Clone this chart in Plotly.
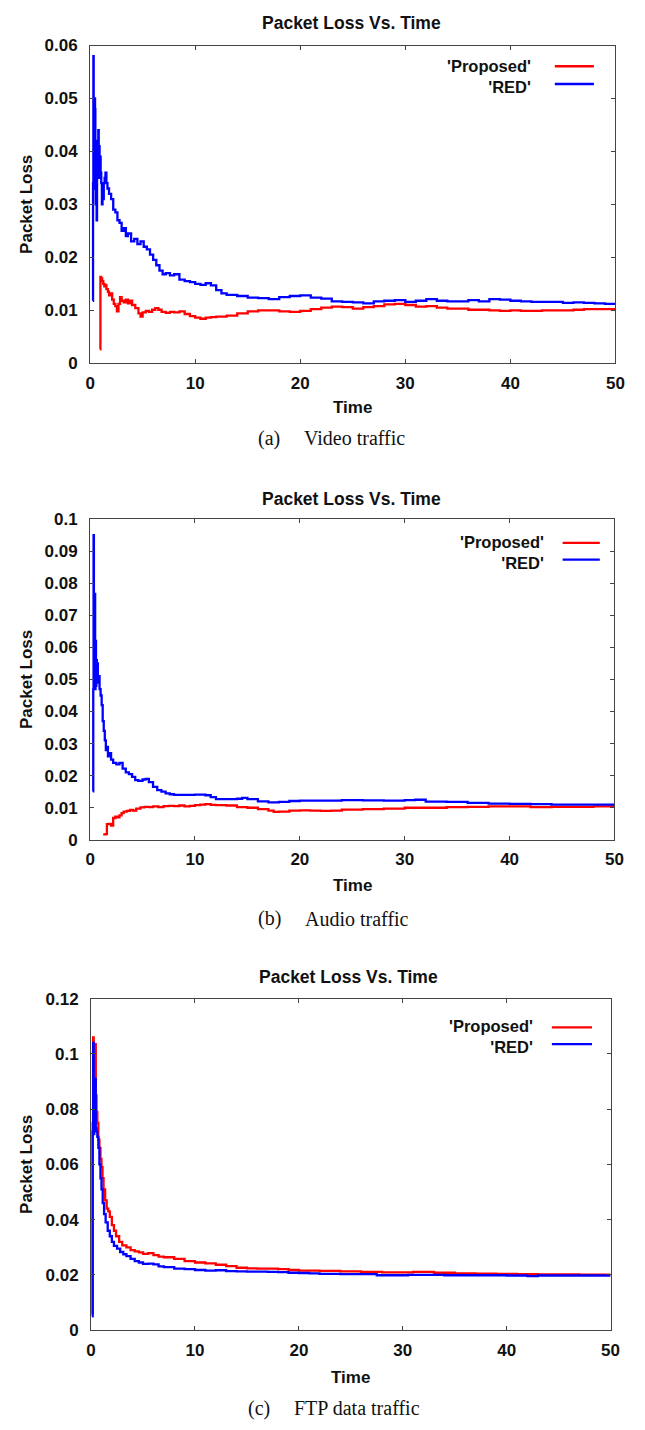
import plotly.graph_objects as go

W, H = 645, 1430

# ---------------- data ----------------
# (a) Video traffic
a_prop_t = [0.95, 0.98, 1.05, 1.15, 1.25, 1.35, 1.45, 1.55, 1.7, 1.8, 1.95, 2.1, 2.25, 2.4, 2.55, 2.7, 2.85,
            3.0, 3.2, 3.4, 3.6, 3.8, 4.0, 4.3, 4.6, 4.8, 5.0, 5.3, 5.6, 5.9, 6.2, 6.5, 6.8, 7.2, 7.6, 8.0,
            8.5, 9.0, 9.5, 10.0, 10.5, 11.0, 11.5, 12.0, 13.0, 14.0, 15.0, 16.0, 17.0, 18.0, 19.0, 20.0,
            21.0, 22.0, 23.0, 24.0, 25.0, 26.0, 27.0, 28.0, 29.0, 30.0, 31.0, 32.0, 33.0, 34.0, 35.0, 36.0,
            37.0, 38.0, 39.0, 40.0, 41.0, 42.0, 43.0, 44.0, 45.0, 46.0, 47.0, 48.0, 49.0, 50.0]
a_prop_v = [0.0026, 0.0163, 0.0160, 0.0155, 0.0150, 0.0145, 0.0148, 0.0140, 0.0135, 0.0128, 0.0132, 0.0120,
            0.0112, 0.0108, 0.0098, 0.0112, 0.0125, 0.0118, 0.0115, 0.0120, 0.0113, 0.0118, 0.0110, 0.0104,
            0.0094, 0.0088, 0.0096, 0.0099, 0.0097, 0.0101, 0.0104, 0.0101, 0.0097, 0.0095, 0.0097, 0.0096,
            0.0098, 0.0093, 0.0089, 0.0086, 0.0084, 0.0086, 0.0087, 0.0088, 0.0090, 0.0094, 0.0098, 0.0100,
            0.0100, 0.0098, 0.0097, 0.0099, 0.0102, 0.0105, 0.0107, 0.0106, 0.0103, 0.0106, 0.0108, 0.0111,
            0.0112, 0.0110, 0.0107, 0.0108, 0.0105, 0.0103, 0.0103, 0.0101, 0.0101, 0.0100, 0.0099, 0.0100,
            0.0099, 0.0099, 0.0100, 0.0100, 0.0100, 0.0101, 0.0102, 0.0102, 0.0102, 0.0102]
a_red_t = [0.26, 0.28, 0.31, 0.34, 0.38, 0.42, 0.47, 0.50, 0.54, 0.58, 0.62, 0.66, 0.70, 0.74, 0.78, 0.82, 0.86,
           0.90, 0.95, 1.00, 1.06, 1.12, 1.18, 1.24, 1.30, 1.38, 1.46, 1.55, 1.65, 1.8, 2.0, 2.2, 2.4, 2.6,
           2.8, 3.0, 3.2, 3.4, 3.6, 3.9, 4.2, 4.5, 4.8, 5.1, 5.4, 5.7, 6.0, 6.3, 6.6, 6.9, 7.2, 7.6, 8.0,
           8.5, 9.0, 9.5, 10.0, 10.5, 11.0, 11.5, 12.0, 12.5, 13.0, 14.0, 15.0, 16.0, 17.0, 18.0, 19.0,
           20.0, 21.0, 22.0, 23.0, 24.0, 25.0, 26.0, 27.0, 28.0, 29.0, 30.0, 31.0, 32.0, 33.0, 34.0, 35.0,
           36.0, 37.0, 38.0, 39.0, 40.0, 41.0, 42.0, 44.0, 45.0, 46.0, 47.0, 48.0, 49.0, 50.0]
a_red_v = [0.0118, 0.034, 0.058, 0.036, 0.033, 0.050, 0.048, 0.036, 0.030, 0.038, 0.027, 0.036, 0.042, 0.035,
           0.044, 0.038, 0.041, 0.035, 0.039, 0.036, 0.034, 0.030, 0.033, 0.031, 0.034, 0.035, 0.036, 0.034,
           0.033, 0.032, 0.031, 0.029, 0.0285, 0.027, 0.0265, 0.025, 0.0255, 0.024, 0.0245, 0.023, 0.0235,
           0.0225, 0.023, 0.022, 0.0215, 0.0205, 0.0195, 0.0185, 0.0175, 0.0168, 0.0170, 0.0166, 0.0168,
           0.0158, 0.0155, 0.0153, 0.0150, 0.0148, 0.0151, 0.0147, 0.0138, 0.0132, 0.0129, 0.0127, 0.0124,
           0.0123, 0.0121, 0.0125, 0.0127, 0.0128, 0.0124, 0.0122, 0.0117, 0.0116, 0.0115, 0.0113, 0.0117,
           0.0118, 0.0119, 0.0116, 0.0118, 0.0121, 0.0118, 0.0117, 0.0117, 0.0119, 0.0117, 0.0121, 0.0120,
           0.0118, 0.0117, 0.0116, 0.0116, 0.0114, 0.0115, 0.0114, 0.0113, 0.0112, 0.0111]

# (b) Audio traffic
b_prop_t = [1.25, 1.5, 1.6, 1.8, 2.0, 2.2, 2.4, 2.6, 2.8, 3.0, 3.2, 3.5, 3.8, 4.1, 4.4, 4.8, 5.2, 5.6, 6.0,
            6.5, 7.0, 7.5, 8.0, 8.5, 9.0, 9.5, 10.0, 10.5, 11.0, 11.5, 12.0, 13.0, 14.0, 15.0, 16.0, 17.0,
            17.5, 18.0, 19.0, 20.0, 21.0, 22.0, 23.0, 24.0, 26.0, 28.0, 30.0, 32.0, 34.0, 36.0, 38.0, 40.0,
            42.0, 44.0, 46.0, 48.0, 50.0]
b_prop_v = [0.0017, 0.0018, 0.0049, 0.0050, 0.0044, 0.0068, 0.0072, 0.0070, 0.0076, 0.0083, 0.0088, 0.0090,
            0.0093, 0.0091, 0.0097, 0.0101, 0.0103, 0.0102, 0.0104, 0.0102, 0.0105, 0.0106, 0.0105, 0.0107,
            0.0104, 0.0106, 0.0108, 0.0110, 0.0111, 0.0109, 0.0108, 0.0107, 0.0102, 0.0100, 0.0096, 0.0091,
            0.0087, 0.0088, 0.0091, 0.0092, 0.0091, 0.0090, 0.0091, 0.0094, 0.0096, 0.0097, 0.0100, 0.0100,
            0.0102, 0.0103, 0.0104, 0.0104, 0.0102, 0.0103, 0.0103, 0.0104, 0.0103]
b_red_t = [0.26, 0.30, 0.33, 0.36, 0.40, 0.44, 0.48, 0.52, 0.56, 0.60, 0.64, 0.68, 0.74, 0.80, 0.90, 1.0, 1.1,
           1.2, 1.3, 1.4, 1.5, 1.6, 1.7, 1.8, 2.0, 2.2, 2.5, 2.8, 3.1, 3.4, 3.7, 4.0, 4.3, 4.6, 5.0, 5.3,
           5.6, 6.0, 6.4, 6.8, 7.2, 7.6, 8.0, 9.0, 10.0, 11.0, 11.5, 12.0, 13.0, 14.0, 14.5, 15.0, 16.0,
           17.0, 18.0, 19.0, 20.0, 22.0, 24.0, 26.0, 28.0, 30.0, 31.0, 32.0, 34.0, 36.0, 38.0, 40.0, 42.0,
           44.0, 46.0, 48.0, 50.0]
b_red_v = [0.0151, 0.047, 0.095, 0.048, 0.060, 0.0767, 0.047, 0.062, 0.048, 0.056, 0.050, 0.055, 0.049, 0.051,
           0.047, 0.045, 0.042, 0.037, 0.034, 0.031, 0.028, 0.029, 0.026, 0.027, 0.025, 0.024, 0.0235, 0.024,
           0.0222, 0.0210, 0.0205, 0.0196, 0.0186, 0.0184, 0.0188, 0.0190, 0.0180, 0.0165, 0.0155, 0.0150,
           0.0145, 0.0142, 0.0140, 0.0140, 0.0141, 0.0139, 0.0133, 0.0127, 0.0127, 0.0128, 0.0131, 0.0127,
           0.0120, 0.0117, 0.0118, 0.0121, 0.0122, 0.0122, 0.0124, 0.0123, 0.0122, 0.0124, 0.0125, 0.0119,
           0.0118, 0.0115, 0.0113, 0.0112, 0.0111, 0.0110, 0.0110, 0.0110, 0.0109]

# (c) FTP data traffic
c_prop_t = [0.10, 0.15, 0.20, 0.25, 0.30, 0.35, 0.40, 0.45, 0.52, 0.60, 0.70, 0.80, 0.90, 1.0, 1.1, 1.2, 1.35,
            1.5, 1.65, 1.8, 2.0, 2.2, 2.4, 2.7, 3.0, 3.4, 3.8, 4.2, 4.6, 5.0, 5.5, 6.0, 6.5, 7.0, 8.0, 9.0,
            10.0, 11.0, 12.0, 13.0, 14.0, 15.0, 16.0, 17.0, 18.0, 19.0, 20.0, 22.0, 24.0, 26.0, 28.0, 30.0,
            31.0, 33.0, 35.0, 37.0, 39.0, 41.0, 43.0, 45.0, 47.0, 50.0]
c_prop_v = [0.006, 0.075, 0.106, 0.074, 0.080, 0.086, 0.1035, 0.085, 0.079, 0.075, 0.069, 0.066, 0.062, 0.059,
            0.055, 0.051, 0.047, 0.044, 0.043, 0.041, 0.038, 0.036, 0.034, 0.032, 0.0307, 0.0300, 0.0290,
            0.0285, 0.0282, 0.0276, 0.0279, 0.0272, 0.0266, 0.0264, 0.0258, 0.0250, 0.0245, 0.0242, 0.0237,
            0.0232, 0.0226, 0.0224, 0.0223, 0.0223, 0.0221, 0.0218, 0.0216, 0.0215, 0.0213, 0.0211, 0.0209,
            0.0209, 0.0211, 0.0208, 0.0206, 0.0205, 0.0204, 0.0203, 0.0202, 0.0202, 0.0201, 0.0201]
c_red_t = [0.10, 0.15, 0.20, 0.25, 0.30, 0.35, 0.40, 0.45, 0.52, 0.60, 0.70, 0.80, 0.90, 1.0, 1.12, 1.25, 1.4,
           1.6, 1.8, 2.0, 2.2, 2.5, 2.8, 3.1, 3.4, 3.8, 4.2, 4.6, 5.0, 5.5, 6.0, 6.5, 7.0, 8.0, 9.0, 10.0,
           11.0, 12.0, 13.0, 14.0, 15.0, 16.0, 17.0, 18.0, 19.0, 20.0, 21.0, 22.0, 24.0, 26.0, 27.5, 29.0,
           30.5, 32.0, 34.0, 36.0, 38.0, 40.0, 42.0, 43.0, 45.0, 47.0, 50.0]
c_red_v = [0.005, 0.072, 0.104, 0.071, 0.075, 0.072, 0.091, 0.073, 0.072, 0.070, 0.066, 0.060, 0.055, 0.051,
           0.046, 0.042, 0.039, 0.036, 0.034, 0.032, 0.0305, 0.0295, 0.0283, 0.0275, 0.0268, 0.0258, 0.0250,
           0.0245, 0.0240, 0.0241, 0.0238, 0.0231, 0.0228, 0.0223, 0.0221, 0.0218, 0.0216, 0.0217, 0.0214,
           0.0213, 0.0212, 0.0212, 0.0211, 0.0210, 0.0208, 0.0207, 0.0206, 0.0204, 0.0203, 0.0203, 0.0199,
           0.0199, 0.0200, 0.0200, 0.0199, 0.0199, 0.0199, 0.0198, 0.0196, 0.0198, 0.0198, 0.0198, 0.0198]

series_names = ["'Proposed'", "'RED'"]
series_colors = ["#ff0000", "#0000ff"]

x_ticks = [0, 10, 20, 30, 40, 50]
x_tick_text = ["0", "10", "20", "30", "40", "50"]
ya_ticks = [0, 0.01, 0.02, 0.03, 0.04, 0.05, 0.06]
ya_text = ["0", "0.01", "0.02", "0.03", "0.04", "0.05", "0.06"]
yb_ticks = [0, 0.01, 0.02, 0.03, 0.04, 0.05, 0.06, 0.07, 0.08, 0.09, 0.1]
yb_text = ["0", "0.01", "0.02", "0.03", "0.04", "0.05", "0.06", "0.07", "0.08", "0.09", "0.1"]
yc_ticks = [0, 0.02, 0.04, 0.06, 0.08, 0.1, 0.12]
yc_text = ["0", "0.02", "0.04", "0.06", "0.08", "0.1", "0.12"]

chart_title = "Packet Loss Vs. Time"
x_label = "Time"
y_label = "Packet Loss"
caption_tags = ["(a)", "(b)", "(c)"]
caption_texts = ["Video traffic", "Audio traffic", "FTP data traffic"]

# ---------------- layout geometry (pixels) ----------------
panels = [
    dict(l=87, r=624, t=37, b=359, title_x=354, title_y=14, xlab_y=404, cap_y=435, tag_x=257, cap_x=304,
         leg_text_r=540, leg_l=562, leg_r=602, leg_y=(58, 76)),
    dict(l=87, r=623, t=517, b=842, title_x=354, title_y=497, xlab_y=888, cap_y=922, tag_x=257, cap_x=305,
         leg_text_r=553, leg_l=570, leg_r=608, leg_y=(541, 558)),
    dict(l=88, r=619, t=1003, b=1339, title_x=351, title_y=981, xlab_y=1387, cap_y=1418, tag_x=246, cap_x=293,
         leg_text_r=542, leg_l=559, leg_r=600, leg_y=(1032, 1049)),
]

data = [
    ((a_prop_t, a_prop_v), (a_red_t, a_red_v), ya_ticks, ya_text, 0.06),
    ((b_prop_t, b_prop_v), (b_red_t, b_red_v), yb_ticks, yb_text, 0.1),
    ((c_prop_t, c_prop_v), (c_red_t, c_red_v), yc_ticks, yc_text, 0.12),
]

SANS = "Liberation Sans, Arial, sans-serif"
SERIF = "Liberation Serif, Times New Roman, serif"
TXT = "#111111"
AXC = "#444444"


def fx(p):
    return p / W


def fy(p):
    return 1 - p / H


fig = go.Figure()
annotations = []
shapes = []
layout_axes = {}

for i, (pan, (prop, red, yt, ytt, ymax)) in enumerate(zip(panels, data)):
    n = "" if i == 0 else str(i + 1)
    xa, ya = "x" + n, "y" + n
    for (tt, vv), name, col in zip((prop, red), series_names, series_colors):
        fig.add_trace(go.Scatter(x=tt, y=vv, mode="lines", name=name, showlegend=False,
                                 line=dict(color=col, width=2.3, shape="hv"), xaxis=xa, yaxis=ya))
    common = dict(showline=True, linecolor=AXC, linewidth=1, mirror="ticks", ticks="inside", ticklen=4,
                  tickcolor=AXC, tickwidth=1, showgrid=False, zeroline=False,
                  tickfont=dict(family=SANS, size=17, color=TXT, weight="bold"))
    layout_axes["xaxis" + n] = dict(common, domain=[fx(pan["l"]), fx(pan["r"])], range=[0, 50],
                                    tickvals=x_ticks, ticktext=x_tick_text, anchor=ya,
                                    ticklabelstandoff=4)
    layout_axes["yaxis" + n] = dict(common, domain=[fy(pan["b"]), fy(pan["t"])], range=[0, ymax],
                                    tickvals=yt, ticktext=ytt, anchor=xa, ticklabelstandoff=8)
    # panel title
    annotations.append(dict(text=chart_title, x=fx(pan["title_x"]), y=fy(pan["title_y"]), xref="paper",
                            yref="paper", showarrow=False, xanchor="center", yanchor="middle",
                            font=dict(family=SANS, size=17.5, color=TXT, weight="bold")))
    # axis titles
    annotations.append(dict(text=x_label, x=fx((pan["l"] + pan["r"]) / 2), y=fy(pan["xlab_y"]), xref="paper",
                            yref="paper", showarrow=False, xanchor="center", yanchor="middle",
                            font=dict(family=SANS, size=17, color=TXT, weight="bold")))
    annotations.append(dict(text=y_label, x=fx(22), y=fy((pan["t"] + pan["b"]) / 2), xref="paper",
                            yref="paper", showarrow=False, xanchor="center", yanchor="middle", textangle=-90,
                            font=dict(family=SANS, size=17, color=TXT, weight="bold")))
    # caption
    annotations.append(dict(text=caption_tags[i], x=fx(pan["tag_x"]), y=fy(pan["cap_y"]), xref="paper",
                            yref="paper", showarrow=False, xanchor="left", yanchor="middle",
                            font=dict(family=SERIF, size=20, color=TXT)))
    annotations.append(dict(text=caption_texts[i], x=fx(pan["cap_x"]), y=fy(pan["cap_y"]), xref="paper",
                            yref="paper", showarrow=False, xanchor="left", yanchor="middle",
                            font=dict(family=SERIF, size=20, color=TXT)))
    # legend (gnuplot style: text right-aligned, sample line on the right)
    ly0, ly1 = pan["leg_y"]
    annotations.append(dict(text="<br>".join(series_names), x=fx(pan["leg_text_r"]), y=fy((ly0 + ly1) / 2 + 1),
                            xref="paper", yref="paper", showarrow=False, xanchor="right", yanchor="middle",
                            align="right", font=dict(family=SANS, size=16.5, color=TXT, weight="bold")))
    for col, ly in zip(series_colors, pan["leg_y"]):
        shapes.append(dict(type="line", xref="paper", yref="paper", x0=fx(pan["leg_l"]), x1=fx(pan["leg_r"]),
                           y0=fy(ly), y1=fy(ly), line=dict(color=col, width=2.3)))

fig.update_layout(width=W, height=H, margin=dict(l=0, r=0, t=0, b=0), paper_bgcolor="white",
                  plot_bgcolor="white", showlegend=False, annotations=annotations, shapes=shapes,
                  **layout_axes)

fig.write_html("out.html", config={"displayModeBar": False},
               post_script="document.body.style.margin='0';")
